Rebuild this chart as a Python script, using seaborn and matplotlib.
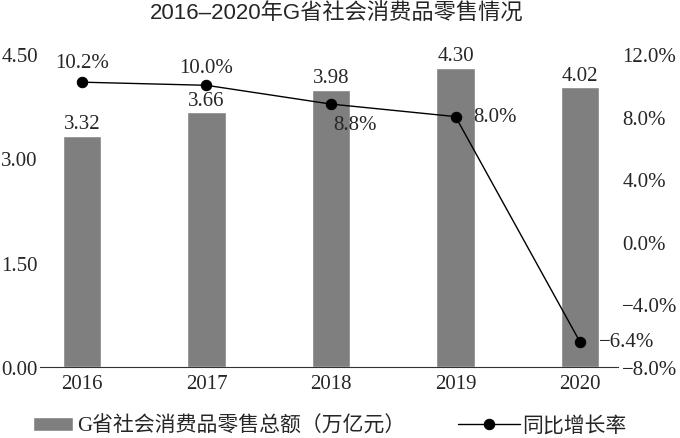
import matplotlib
matplotlib.use('Agg')
import matplotlib.pyplot as plt
import numpy as np
import pandas as pd
import seaborn as sns

# data
years = ['2016', '2017', '2018', '2019', '2020']
retail_total = [3.32, 3.66, 3.98, 4.30, 4.02]   # 万亿元
growth = [10.2, 10.0, 8.8, 8.0, -6.4]           # %
left_ticks = [0.00, 1.50, 3.00, 4.50]
right_ticks = [-8.0, -4.0, 0.0, 4.0, 8.0, 12.0]

sns.set_style('white')
serif = ['Liberation Serif', 'Noto Sans CJK SC']
sans = ['Liberation Sans', 'Noto Sans CJK SC']
plt.rcParams['font.family'] = serif
FS = 15

df = pd.DataFrame({'year': years, 'total': retail_total, 'growth': growth})
df['pos'] = np.arange(len(df))

fig = plt.figure(figsize=(6.8, 4.39), dpi=100)
ax = fig.add_axes([40/680, 1-368/439, (618-40)/680, (368-55)/439])

sns.barplot(data=df, x='year', y='total', ax=ax, color='#7f7f7f',
            saturation=1, width=0.31, label='G省社会消费品零售总额（万亿元）')
ax.set_ylim(0, 4.5)
ax.set_xlim(-0.337, 4.305)
ax.set_yticks(left_ticks)
ax.set_yticklabels([f'{t:.2f}' for t in left_ticks], fontsize=FS)
ax.set_xlabel('')
ax.set_ylabel('')
ax.tick_params(axis='x', labelsize=FS, length=0, pad=5)
ax.tick_params(axis='y', length=0, pad=1.5)
for s in ['top', 'right', 'left']:
    ax.spines[s].set_visible(False)
ax.spines['bottom'].set_color('#333333')
for i, v in enumerate(retail_total):
    ax.text(i, v + 0.04, f'{v:.2f}', ha='center', va='bottom', fontsize=FS)

ax2 = ax.twinx()
sns.lineplot(data=df, x='pos', y='growth', ax=ax2, color='black', lw=1,
             marker='o', markersize=7.5, markeredgecolor='black', label='同比增长率')
ax2.set_ylim(-8, 12)
ax2.set_yticks(right_ticks)
ax2.set_yticklabels([f'{t:.1f}%'.replace('-', '−') for t in right_ticks], fontsize=FS)
ax2.set_ylabel('')
ax2.set_xlabel('')
ax2.tick_params(axis='y', length=0, pad=3)
for s in ['top', 'right', 'left', 'bottom']:
    ax2.spines[s].set_visible(False)
ax2.get_legend().remove()

# growth labels, placed like the reference
offsets = [(0, 14, 'center'), (0, 12.5, 'center'), (1.5, -15, 'left'),
           (13, 0, 'left'), (14, 0, 'left')]
for i, v in enumerate(growth):
    dx, dy, ha = offsets[i]
    ax2.annotate(f'{v:.1f}%'.replace('-', '−'), (i, v), xytext=(dx, dy),
                 textcoords='offset points', ha=ha, va='center', fontsize=FS)

fig.text(337/680, 1-14/439, '2016–2020年G省社会消费品零售情况', ha='center',
         va='center', fontsize=16, family=sans)

h1, l1 = ax.get_legend_handles_labels()
h2, l2 = ax2.get_legend_handles_labels()
if ax.get_legend():
    ax.get_legend().remove()
fig.legend(h1, l1, loc='center', bbox_to_anchor=(219/680, 1-427/439), frameon=False,
           handlelength=1.9, handletextpad=0.2, prop={'family': serif, 'size': FS})
fig.legend(h2, l2, loc='center', bbox_to_anchor=(542/680, 1-427/439), frameon=False,
           handlelength=3.0, handletextpad=0.1, prop={'family': serif, 'size': FS})

fig.savefig('out.png', dpi=100)
